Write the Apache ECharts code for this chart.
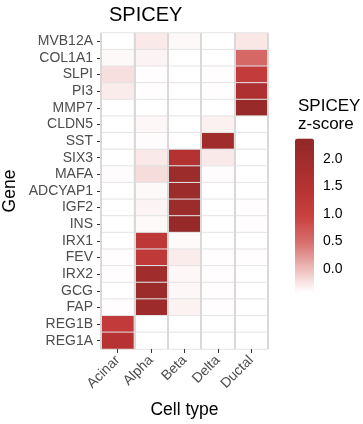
<!DOCTYPE html>
<html>
<head>
<meta charset="utf-8">
<script src="https://cdn.jsdelivr.net/npm/echarts@6/dist/echarts.min.js"></script>
<style>html,body{margin:0;padding:0;background:#fff;}#c{width:363px;height:424px;}</style>
</head>
<body>
<div id="c"></div>
<script>
const cellTypes = ['Acinar', 'Alpha', 'Beta', 'Delta', 'Ductal'];
const genes = ['MVB12A','COL1A1','SLPI','PI3','MMP7','CLDN5','SST','SIX3','MAFA','ADCYAP1','IGF2','INS','IRX1','FEV','IRX2','GCG','FAP','REG1B','REG1A'];
// z-scores per gene, in order Acinar, Alpha, Beta, Delta, Ductal
const MVB12A  = [-0.42, -0.28, -0.38, -0.42, -0.27];
const COL1A1  = [-0.38, -0.35, -0.42, -0.42, 0.55];
const SLPI    = [-0.22, -0.41, -0.42, -0.41, 1.12];
const PI3     = [-0.30, -0.41, -0.42, -0.41, 1.65];
const MMP7    = [-0.42, -0.42, -0.42, -0.42, 2.2];
const CLDN5   = [-0.42, -0.37, -0.42, -0.33, -0.42];
const SST     = [-0.42, -0.40, -0.42, 2.0, -0.42];
const SIX3    = [-0.42, -0.28, 1.5, -0.28, -0.42];
const MAFA    = [-0.40, -0.20, 2.1, -0.40, -0.42];
const ADCYAP1 = [-0.42, -0.38, 2.1, -0.42, -0.42];
const IGF2    = [-0.42, -0.35, 2.1, -0.42, -0.41];
const INS     = [-0.42, -0.38, 2.25, -0.42, -0.41];
const IRX1    = [-0.42, 1.25, -0.39, -0.42, -0.42];
const FEV     = [-0.41, 1.22, -0.30, -0.41, -0.41];
const IRX2    = [-0.41, 2.0, -0.37, -0.41, -0.42];
const GCG     = [-0.42, 2.1, -0.37, -0.41, -0.42];
const FAP     = [-0.41, 2.05, -0.34, -0.41, -0.42];
const REG1B   = [1.15, -0.42, -0.42, -0.42, -0.42];
const REG1A   = [1.45, -0.42, -0.42, -0.42, -0.42];
const rows = [MVB12A, COL1A1, SLPI, PI3, MMP7, CLDN5, SST, SIX3, MAFA, ADCYAP1, IGF2, INS, IRX1, FEV, IRX2, GCG, FAP, REG1B, REG1A];
const legendTicks = [0, 0.5, 1, 1.5, 2];
const zMin = -0.42, zMax = 2.37;

const data = [];
rows.forEach((r, gi) => r.forEach((v, ci) => data.push([ci, gi, v])));

const FONT = 'Liberation Sans, Arial, Helvetica, sans-serif';
const chart = echarts.init(document.getElementById('c'), null, {renderer: 'canvas'});
chart.setOption({
  animation: false,
  backgroundColor: '#ffffff',
  title: [
    {text: 'SPICEY', left: 104, top: 0, textStyle: {fontFamily: FONT, fontSize: 20, fontWeight: 'normal', color: '#000'}},
    {text: 'SPICEY\nz-score', left: 293, top: 92, textStyle: {fontFamily: FONT, fontSize: 17, fontWeight: 'normal', color: '#000', lineHeight: 18}}
  ],
  grid: [
    {left: 101, top: 33, width: 167, height: 319},
    {left: 295, top: 138.5, width: 19, height: 153.5}
  ],
  xAxis: [
    {
      type: 'category', data: cellTypes, gridIndex: 0, z: 10,
      axisLine: {show: false},
      axisTick: {show: true, alignWithLabel: true, interval: 0, length: 4, lineStyle: {color: '#333'}},
      axisLabel: {rotate: 45, interval: 0, fontFamily: FONT, fontSize: 14, color: '#4d4d4d', margin: 9},
      splitLine: {show: true, interval: 0, lineStyle: {color: '#d9d9d9', width: 2}},
      name: 'Cell type', nameLocation: 'middle', nameGap: 52,
      nameTextStyle: {fontFamily: FONT, fontSize: 17.5, color: '#000'}
    },
    {type: 'value', gridIndex: 1, show: false}
  ],
  yAxis: [
    {
      type: 'category', data: genes, inverse: true, gridIndex: 0,
      axisLine: {show: false},
      axisTick: {show: true, alignWithLabel: true, interval: 0, length: 4, lineStyle: {color: '#333'}},
      axisLabel: {interval: 0, fontFamily: FONT, fontSize: 14, color: '#4d4d4d', margin: 8},
      splitLine: {show: false},
      name: 'Gene', nameLocation: 'middle', nameGap: 82, nameRotate: 90,
      nameTextStyle: {fontFamily: FONT, fontSize: 17.5, color: '#000'}
    },
    {
      type: 'value', gridIndex: 1, min: zMin, max: zMax, position: 'right', z: 10,
      axisLine: {show: false},
      axisTick: {show: true, inside: true, length: 4, customValues: legendTicks, lineStyle: {color: '#ffffff', width: 1}},
      axisLabel: {show: true, customValues: legendTicks, margin: 9, fontFamily: FONT, fontSize: 14, color: '#000',
        formatter: v => v.toFixed(1)},
      splitLine: {show: false}
    }
  ],
  visualMap: {
    type: 'continuous', min: zMin, max: zMax, seriesIndex: 0,
    left: 295, top: 138.5, itemWidth: 19, itemHeight: 153.5, padding: 0,
    calculable: false, text: null, showLabel: false,
    inRange: {color: ['#ffffff', '#ebb5b3', '#d66b68', '#c8403f', '#b73333', '#a42d2d', '#922828']}
  },
  series: [{
    type: 'heatmap', xAxisIndex: 0, yAxisIndex: 0, data: data,
    itemStyle: {borderColor: '#e4e4e4', borderWidth: 1},
    emphasis: {disabled: true}
  }]
});
</script>
</body>
</html>
